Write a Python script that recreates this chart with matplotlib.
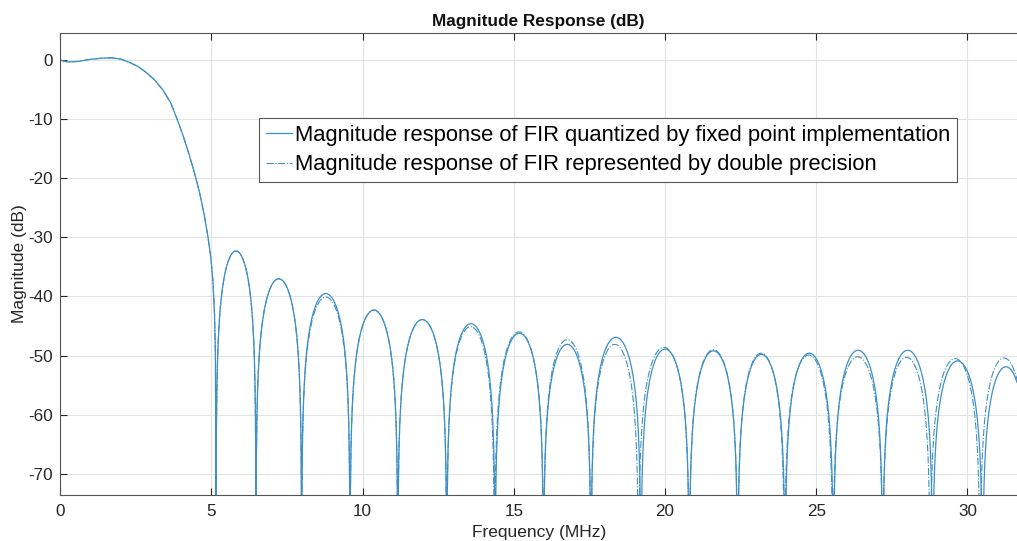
import matplotlib
matplotlib.use("Agg")
import matplotlib.pyplot as plt
import numpy as np

plt.rcParams['font.family'] = ['Liberation Sans', 'DejaVu Sans']
plt.rcParams['axes.unicode_minus'] = False

# main lobe (MHz, dB) - same for both filters
main_f  = [0.0, 0.25, 0.6, 1.0, 1.4, 1.7, 2.0, 2.3, 2.58, 2.85, 3.13, 3.4,
           3.65, 3.85, 4.05, 4.25, 4.45, 4.6, 4.75, 4.88, 4.98, 5.05, 5.1,
           5.13, 5.15]
main_db = [0.0, -0.3, -0.2, 0.15, 0.35, 0.4, 0.2, -0.4, -1.1, -2.1, -3.4, -5.1,
           -7.2, -9.8, -12.6, -15.8, -19.3, -22.3, -25.9, -29.8, -33.5, -37.5,
           -43.0, -50.0, -80.0]

# sidelobe nulls (MHz) and peak levels (dB)
fixed_nulls = [5.15, 6.47, 7.98, 9.58, 11.16, 12.78, 14.38, 15.98, 17.55, 19.20,
               20.80, 22.40, 23.97, 25.57, 27.20, 28.85, 30.50, 32.05]
fixed_peaks = [-32.3, -37.0, -39.5, -42.3, -43.9, -44.6, -46.2, -48.1, -46.9,
               -48.9, -49.2, -49.8, -49.6, -49.1, -49.1, -50.9, -51.9]

double_nulls = [5.15, 6.47, 7.98, 9.58, 11.16, 12.78, 14.36, 15.98, 17.55, 19.12,
                20.80, 22.40, 23.95, 25.55, 27.20, 28.77, 30.42, 32.0]
double_peaks = [-32.3, -37.0, -40.1, -42.3, -43.9, -45.1, -46.0, -47.3, -48.1,
                -48.6, -49.0, -49.6, -49.9, -50.2, -50.3, -50.5, -50.4]

labels = ['Magnitude response of FIR quantized by fixed point implementation',
          'Magnitude response of FIR represented by double precision']


def build(nulls, peaks):
    f = list(main_f)
    db = list(main_db)
    for a, b, p in zip(nulls[:-1], nulls[1:], peaks):
        u = np.linspace(0, 1, 300)[1:-1]
        f.extend(a + u * (b - a))
        db.extend(p + 20 * np.log10(np.sin(np.pi * u)))
        f.append(b)
        db.append(-80.0)
    return np.array(f), np.array(db)


fig = plt.figure(figsize=(10.17, 5.41), dpi=100)
ax = fig.add_axes([0.0593, 0.0856, 0.9407, 0.8528])

color = '#3d8fc6'
f1, d1 = build(fixed_nulls, fixed_peaks)
f2, d2 = build(double_nulls, double_peaks)
ax.plot(f1, d1, '-', color=color, lw=0.9, label=labels[0])
ax.plot(f2, d2, '-.', color=color, lw=0.8, label=labels[1])

ax.set_xlim(0, 31.64)
ax.set_ylim(-73.55, 4.55)
ax.set_xticks(np.arange(0, 31, 5))
ax.set_yticks(np.arange(-70, 1, 10))
ax.grid(True, color='#e3e3e3', lw=0.8)
ax.set_axisbelow(True)
ax.tick_params(direction='in', top=True, right=False, length=5,
               labelsize=12.3, colors='#262626', pad=5)
ax.tick_params(axis='x', pad=7)
for s in ['left', 'bottom', 'top']:
    ax.spines[s].set_color('#555555')
ax.spines['right'].set_visible(False)

ax.set_title('Magnitude Response (dB)', fontsize=12.4, fontweight='bold',
             color='#111111', pad=5)
ax.set_xlabel('Frequency (MHz)', fontsize=12.5, color='#262626', labelpad=4)
ax.set_ylabel('Magnitude (dB)', fontsize=12.5, color='#262626', labelpad=1)

leg = ax.legend(loc='upper left', bbox_to_anchor=(0.2077, 0.8164), fontsize=15.8,
                handlelength=1.2, handletextpad=0.15, borderpad=0.3,
                labelspacing=0.4, fancybox=False, framealpha=1,
                edgecolor='#555555', borderaxespad=0)
leg.get_frame().set_linewidth(0.8)

fig.savefig('out.png', dpi=100)
